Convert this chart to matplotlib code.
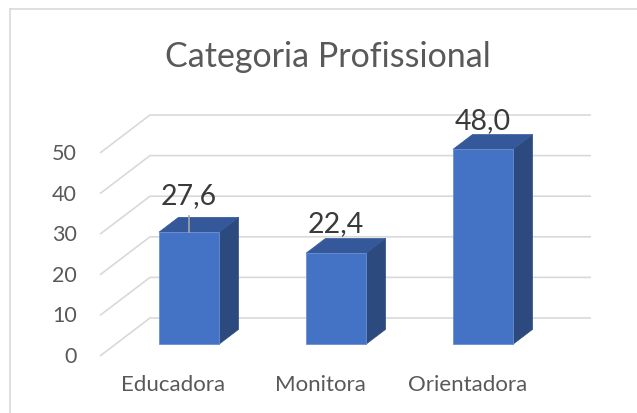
import numpy as np
import matplotlib
matplotlib.use("Agg")
import matplotlib.pyplot as plt
from matplotlib.patches import Polygon
from matplotlib.lines import Line2D

# data
categories = ["Educadora", "Monitora", "Orientadora"]
values = [27.6, 22.4, 48.0]
value_labels = ["27,6", "22,4", "48,0"]
yticks = [0, 10, 20, 30, 40, 50]
title = "Categoria Profissional"

plt.rcParams['font.family'] = ['Lato', 'DejaVu Sans']

W, H = 637, 414
fig = plt.figure(figsize=(W / 100, H / 100), dpi=100)
ax = fig.add_axes([0, 0, 1, 1])
ax.axis('off')

# pixel layout of the fake 3d box
X0, Y0 = 100, 357          # front-left corner of the floor
PX_CAT, PX_VAL = 147, 4.06  # pixels per category / per value unit
def px2x(px): return (px - X0) / PX_CAT
def py2y(py): return (Y0 - py) / PX_VAL
ax.set_xlim(px2x(0), px2x(W))
ax.set_ylim(py2y(H), py2y(0))

# full depth offset in data units
DX, DY = 50 / PX_CAT, 38 / PX_VAL
f_front, f_back = 0.31, 0.70
bar_w = 60 / PX_CAT

grid_c = '#D9D9D9'
n = len(categories)
for v in yticks:
    ax.plot([0, DX, n + DX], [v, v + DY, v + DY], color=grid_c, lw=1.2,
            solid_capstyle='butt', zorder=1)
    ax.text(px2x(77), v, str(v), ha='right', va='center', fontsize=15.5,
            color='#595959')

c_front, c_side, c_top = '#4472C4', '#2C4A7E', '#34589A'
ox0, oy0 = f_front * DX, f_front * DY
ox1, oy1 = f_back * DX, f_back * DY
lift = [22, 15, 14]  # label gap above bar, px
for i, (v, lab) in enumerate(zip(values, value_labels)):
    xl = i + 0.5 - bar_w / 2 + ox0
    xr = i + 0.5 + bar_w / 2 + ox0
    yb, yt = oy0, v + oy0
    dx, dy = ox1 - ox0, oy1 - oy0
    side = Polygon([(xr, yb), (xr + dx, yb + dy), (xr + dx, yt + dy), (xr, yt)],
                   closed=True, fc=c_side, ec=c_side, lw=0.5, zorder=3)
    top = Polygon([(xl, yt), (xr, yt), (xr + dx, yt + dy), (xl + dx, yt + dy)],
                  closed=True, fc=c_top, ec=c_top, lw=0.5, zorder=3)
    front = Polygon([(xl, yb), (xr, yb), (xr, yt), (xl, yt)],
                    closed=True, fc=c_front, ec='#6B8ED3', lw=0.6, zorder=4)
    for p in (side, top, front):
        ax.add_patch(p)
    xc = i + 0.5 + ox0
    ytop_back = v + oy1
    ax.text(xc, ytop_back + lift[i] / PX_VAL, lab, ha='center', va='center',
            fontsize=20.5, color='#3A3A3A', zorder=6)
    ax.text(i + 0.5, py2y(385), categories[i], ha='center', va='center',
            fontsize=16, color='#595959')

# leader line on the first label
xc = 0.5 + ox0
ax.plot([xc, xc], [values[0] + oy0, values[0] + oy0 + 16 / PX_VAL],
        color='#A6A6A6', lw=1.2, zorder=5)

fig.text(327.5 / W, 1 - 67 / H, title, ha='center', va='baseline',
         fontsize=24.5, color='#595959')

# chart border (only top and left visible)
fig.add_artist(Line2D([9.5 / W, 9.5 / W], [0, 1 - 10 / H], color=grid_c, lw=1.2))
fig.add_artist(Line2D([9.5 / W, 1], [1 - 10 / H, 1 - 10 / H], color=grid_c, lw=1.2))

fig.savefig("out.png", dpi=100)
